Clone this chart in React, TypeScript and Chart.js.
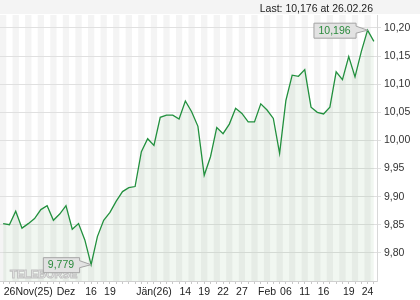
import React, { useEffect, useRef } from "react";
import { Chart, registerables } from "chart.js";

Chart.register(...registerables);

// ---- data ----
const dates = [
  "26.11.25", "27.11.25", "28.11.25", "01.12.25", "02.12.25", "03.12.25", "04.12.25", "05.12.25", "08.12.25", "09.12.25",
  "10.12.25", "11.12.25", "12.12.25", "15.12.25", "16.12.25", "17.12.25", "18.12.25", "19.12.25", "22.12.25", "23.12.25",
  "29.12.25", "30.12.25", "02.01.26", "05.01.26", "07.01.26", "08.01.26", "09.01.26", "12.01.26", "13.01.26", "14.01.26",
  "15.01.26", "16.01.26", "19.01.26", "20.01.26", "21.01.26", "22.01.26", "23.01.26", "26.01.26", "27.01.26", "28.01.26",
  "29.01.26", "30.01.26", "02.02.26", "03.02.26", "05.02.26", "06.02.26", "09.02.26", "10.02.26", "11.02.26", "12.02.26",
  "13.02.26", "16.02.26", "17.02.26", "18.02.26", "19.02.26", "20.02.26", "23.02.26", "24.02.26", "25.02.26", "26.02.26",
];

const prices = [
  9.852, 9.850, 9.874, 9.844, 9.852, 9.861, 9.877, 9.884, 9.858, 9.869,
  9.884, 9.842, 9.852, 9.823, 9.779, 9.829, 9.858, 9.872, 9.892, 9.909,
  9.916, 9.918, 9.980, 10.003, 9.991, 10.041, 10.045, 10.045, 10.038, 10.070,
  10.051, 10.025, 9.938, 9.971, 10.023, 10.012, 10.029, 10.057, 10.048, 10.033,
  10.033, 10.065, 10.054, 10.039, 9.977, 10.071, 10.116, 10.114, 10.126, 10.059,
  10.050, 10.047, 10.059, 10.122, 10.108, 10.149, 10.113, 10.158, 10.196, 10.176,
];

const xTickIndex = [4, 10, 14, 17, 24, 29, 32, 35, 38, 42, 45, 48, 51, 55, 58];
const xTickText = ["26Nov(25)", "Dez", "16", "19", "Jän(26)", "14", "19", "22", "27", "Feb", "06", "11", "16", "19", "24"];

const yTickValues = [9.8, 9.85, 9.9, 9.95, 10.0, 10.05, 10.1, 10.15, 10.2];
const yMin = 9.75;
const yMax = 10.223;

const lastText = "Last: 10,176 at 26.02.26";
const watermark = "TELEBÖRSE";

const FONT = '"Liberation Sans", Arial, sans-serif';
const fmt = (v: number, d: number) => v.toFixed(d).replace(".", ",");

function drawTag(ctx: CanvasRenderingContext2D, px: number, py: number, text: string) {
  ctx.save();
  ctx.font = `10.5px ${FONT}`;
  const w = ctx.measureText(text).width + 10;
  const h = 15;
  const right = px - 12;
  const left = right - w;
  const top = py - h / 2;
  const bottom = top + h;
  ctx.beginPath();
  ctx.moveTo(left + 0.5, top + 0.5);
  ctx.lineTo(right + 0.5, top + 0.5);
  ctx.lineTo(right + 0.5, py - 4);
  ctx.lineTo(px, py);
  ctx.lineTo(right + 0.5, py + 3);
  ctx.lineTo(right + 0.5, bottom + 0.5);
  ctx.lineTo(left + 0.5, bottom + 0.5);
  ctx.closePath();
  ctx.fillStyle = "#e2e2e2";
  ctx.fill();
  ctx.strokeStyle = "#a4a4a4";
  ctx.lineWidth = 1;
  ctx.stroke();
  ctx.fillStyle = "#2a8a3c";
  ctx.textAlign = "center";
  ctx.textBaseline = "middle";
  ctx.fillText(text, (left + right) / 2, py + 0.5);
  ctx.restore();
}

const decor = {
  id: "decor",
  beforeDraw(chart: any) {
    const { ctx, chartArea: a, scales } = chart;
    const x = scales.x;
    ctx.save();
    ctx.fillStyle = "#f4f4f4";
    ctx.fillRect(0, 0, chart.width, a.top - 1);
    const step = x.getPixelForValue(1) - x.getPixelForValue(0);
    for (let i = 0; i < prices.length; i += 2) {
      const cx = x.getPixelForValue(i);
      ctx.fillRect(cx - step / 2, a.top, step, a.bottom - a.top);
    }
    ctx.restore();
  },
  afterDatasetsDraw(chart: any) {
    const { ctx, chartArea: a } = chart;
    const meta = chart.getDatasetMeta(0);
    // watermark
    ctx.save();
    ctx.font = `bold 11px ${FONT}`;
    ctx.textBaseline = "bottom";
    ctx.lineWidth = 1;
    ctx.strokeStyle = "#c2c2c2";
    ctx.fillStyle = "#f6f6f6";
    ctx.fillText(watermark, a.left + 10, a.bottom - 1);
    ctx.strokeText(watermark, a.left + 10, a.bottom - 1);
    ctx.restore();

    let maxI = 0;
    let minI = 0;
    prices.forEach((v, i) => {
      if (v > prices[maxI]) maxI = i;
      if (v < prices[minI]) minI = i;
    });
    const pMax = meta.data[maxI];
    const pMin = meta.data[minI];
    drawTag(ctx, pMax.x, pMax.y, fmt(prices[maxI], 3));
    drawTag(ctx, pMin.x, pMin.y, fmt(prices[minI], 3));
  },
  afterDraw(chart: any) {
    const { ctx, chartArea: a } = chart;
    ctx.save();
    ctx.font = `10.5px ${FONT}`;
    ctx.fillStyle = "#222";
    ctx.textAlign = "right";
    ctx.textBaseline = "alphabetic";
    ctx.fillText(lastText, a.right - 4, 11.5);
    ctx.restore();
  },
};

export default function App() {
  const ref = useRef<HTMLCanvasElement | null>(null);

  useEffect(() => {
    if (!ref.current) return;
    const tickFont = { family: FONT, size: 10.5 };
    const chart = new Chart(ref.current, {
      type: "line",
      data: {
        labels: dates,
        datasets: [
          {
            data: prices,
            borderColor: "#22903e",
            borderWidth: 1.3,
            pointRadius: 0,
            tension: 0,
            fill: "start",
            backgroundColor: "rgba(40,130,50,0.065)",
          },
        ],
      },
      options: {
        animation: false,
        responsive: false,
        maintainAspectRatio: false,
        layout: { padding: { top: 15, left: 0, right: 0, bottom: 0 } },
        plugins: { legend: { display: false }, tooltip: { enabled: false } },
        scales: {
          x: {
            type: "category",
            offset: true,
            grid: { display: true, drawOnChartArea: false, drawTicks: true, tickLength: 3, color: "#c8c8c8", offset: false },
            border: { display: true, color: "#d0d0d0" },
            ticks: {
              autoSkip: false,
              maxRotation: 0,
              minRotation: 0,
              padding: 2,
              color: "#222",
              font: tickFont,
              callback: (_v: any, i: number) => {
                const k = xTickIndex.indexOf(i);
                return k >= 0 ? xTickText[k] : "";
              },
            },
            afterFit: (s: any) => {
              s.height = 19;
            },
          },
          y: {
            position: "right",
            min: yMin,
            max: yMax,
            afterBuildTicks: (s: any) => {
              s.ticks = yTickValues.map((v) => ({ value: v }));
            },
            grid: { color: "#e0e0e0", tickLength: 4 },
            border: { display: true, color: "#d8d8d8" },
            ticks: {
              padding: 3,
              color: "#333",
              font: tickFont,
              callback: (v: any) => fmt(Number(v), 2),
            },
            afterFit: (s: any) => {
              s.width = 43;
            },
          },
        },
      },
      plugins: [decor],
    });
    return () => chart.destroy();
  }, []);

  return (
    <div style={{ position: "fixed", left: 0, top: 0, width: 420, height: 300, background: "#fff" }}>
      <canvas ref={ref} width={420} height={300} style={{ display: "block", width: 420, height: 300 }} />
    </div>
  );
}
